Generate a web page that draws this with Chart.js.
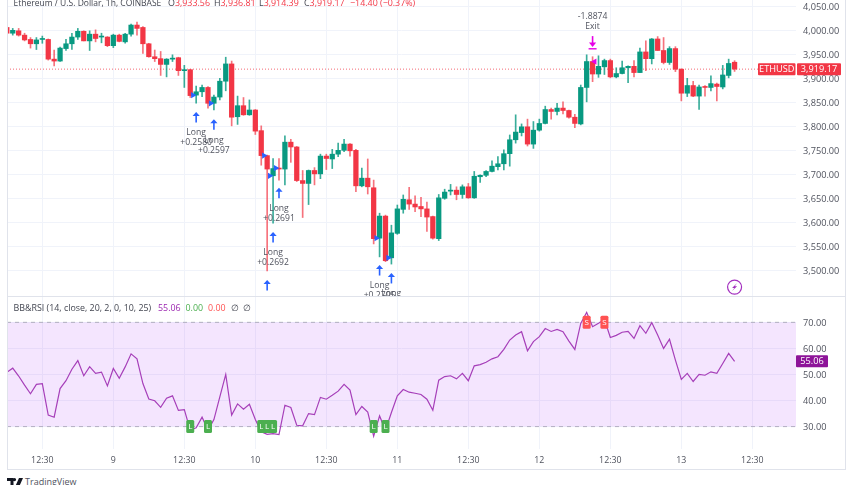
<!DOCTYPE html>
<html>
<head>
<meta charset="utf-8">
<title>ETHUSD</title>
<script src="https://cdn.jsdelivr.net/npm/chart.js@4"></script>
<style>
  html, body { margin: 0; padding: 0; background: #fff; overflow: hidden; }
  body { width: 852px; height: 485px; position: relative; font-family: "Open Sans", sans-serif; color: #434651; }
  canvas { position: absolute; left: 0; }
  #priceChart { top: 0; }
  #rsiChart { top: 296px; }
  .frame { position: absolute; background: #e0e3eb; }
  .legend { position: absolute; font-size: 8.9px; line-height: 14px; white-space: nowrap; }
  .legend span { position: absolute; top: 0; }
  .red { color: #f23645; }
  .green { color: #4caf50; }
  .pink { color: #ff5252; }
  .purple { color: #9c27b0; }
  #brand { position: absolute; left: 7px; top: 475px; height: 14px; }
  #brand svg { position: absolute; left: 0; top: 3px; }
  #brand span { position: absolute; left: 18px; top: 0; font-size: 9px; line-height: 14px; color: #50535e; }
</style>
</head>
<body>
<canvas id="priceChart" width="852" height="296"></canvas>
<canvas id="rsiChart" width="852" height="173"></canvas>

<div class="frame" style="left:7px;top:0;width:1px;height:470px"></div>
<div class="frame" style="left:845px;top:0;width:1px;height:470px"></div>
<div class="frame" style="left:7px;top:296px;width:839px;height:1px"></div>
<div class="frame" style="left:7px;top:469px;width:839px;height:1px"></div>

<div class="legend" style="left:0;top:-4px;width:852px">
  <span style="left:13.5px;font-size:8.5px">Ethereum / U.S. Dollar, 1h, COINBASE</span>
  <span style="left:168px">O<b class="red" style="font-weight:400">3,933.56</b></span>
  <span style="left:214px">H<b class="red" style="font-weight:400">3,936.81</b></span>
  <span style="left:259px">L<b class="red" style="font-weight:400">3,914.39</b></span>
  <span style="left:304px">C<b class="red" style="font-weight:400">3,919.17</b></span>
  <span class="red" style="left:350px">−14.40 (−0.37%)</span>
</div>
<div class="legend" style="left:0;top:301px;width:852px">
  <span style="left:13.5px">BB&amp;RSI (14, close, 20, 2, 0, 10, 25)</span>
  <span class="purple" style="left:158px">55.06</span>
  <span class="green" style="left:185.5px">0.00</span>
  <span class="pink" style="left:208px">0.00</span>
  <span style="left:231px">∅</span>
  <span style="left:243px">∅</span>
</div>
<div id="brand">
  <svg width="16" height="10" viewBox="0 0 16 10"><path d="M0 0h6.5v9H3.5V3H0z M7.5 0a1.6 1.6 0 1 1 0 3.2a1.6 1.6 0 1 1 0-3.2z M12 0h4l-4 9H8z" fill="#131722"/></svg>
  <span>TradingView</span>
</div>

<script>
// hourly candles
const opens = [4006,3994,3999,3990,3981,3972,3981,3981,3940,3936,3962,3972,3986,3998,3978,3992,3986,3986,3968,3990,3976,3992,4011,4006,3972,3945,3941,3929,3940,3943,3916,3918,3865,3872,3881,3848,3861,3894,3930,3820,3843,3824,3834,3791,3739,3697,3713,3711,3767,3757,3687,3681,3708,3701,3738,3732,3742,3750,3763,3750,3676,3692,3672,3567,3613,3526,3577,3627,3647,3638,3633,3628,3612,3566,3650,3665,3667,3658,3674,3651,3695,3698,3706,3716,3722,3743,3772,3787,3799,3763,3792,3806,3835,3831,3838,3833,3819,3805,3881,3935,3909,3924,3937,3903,3910,3922,3925,3912,3955,3941,3982,3958,3933,3962,3919,3869,3885,3863,3883,3881,3888,3882,3906,3933.56];
const highs = [4008,4004,4004,3994,3985,3985,3988,3982,3959,3965,3981,3994,4004,3999,3999,4001,3994,3987,3992,3992,3994,4013,4017,4008,3973,3959,3956,3941,3949,3944,3927,3919,3884,3886,3883,3865,3900,3944,3936,3863,3860,3855,3835,3801,3740,3733,3733,3780,3773,3758,3708,3709,3714,3742,3742,3752,3765,3773,3764,3752,3713,3732,3688,3619,3615,3594,3636,3657,3673,3655,3652,3642,3613,3658,3669,3679,3674,3678,3681,3706,3699,3708,3728,3737,3751,3782,3824,3805,3815,3810,3815,3842,3838,3848,3851,3834,3825,3886,3949,3945,3947,3940,3940,3922,3936,3926,3937,3963,3978,3983,3987,3985,3966,3966,3920,3900,3894,3886,3885,3905,3890,3927,3940,3936.81];
const lows = [3992,3990,3988,3978,3963,3960,3973,3938,3926,3935,3958,3960,3981,3978,3958,3976,3974,3966,3964,3976,3973,3988,3990,3952,3944,3935,3906,3903,3935,3906,3881,3860,3848,3862,3838,3834,3855,3874,3801,3804,3823,3823,3783,3719,3499,3598,3688,3678,3725,3685,3610,3637,3678,3691,3710,3712,3737,3747,3738,3664,3674,3659,3555,3528,3518,3513,3575,3619,3627,3622,3612,3581,3565,3562,3648,3657,3647,3650,3650,3650,3683,3695,3705,3709,3709,3717,3765,3780,3759,3754,3790,3805,3815,3824,3826,3817,3797,3803,3851,3893,3902,3908,3901,3901,3909,3891,3903,3912,3916,3930,3958,3930,3929,3914,3853,3862,3862,3835,3863,3874,3853,3878,3901,3914.39];
const closes = [3994,4000,3990,3980,3972,3980,3982,3940,3936,3963,3972,3986,3998,3978,3992,3983,3987,3968,3990,3977,3992,4011,4004,3972,3945,3941,3929,3940,3942,3916,3917,3864,3872,3881,3848,3861,3894,3930,3819,3843,3824,3834,3790,3739,3711,3712,3711,3767,3757,3687,3681,3708,3701,3738,3733,3742,3750,3763,3749,3676,3692,3674,3566,3613,3520,3578,3628,3648,3638,3632,3628,3611,3567,3651,3663,3667,3658,3674,3651,3696,3698,3706,3717,3722,3743,3772,3788,3799,3763,3792,3806,3835,3831,3838,3833,3819,3806,3881,3935,3909,3925,3937,3903,3910,3922,3925,3912,3955,3941,3982,3958,3933,3962,3919,3869,3885,3863,3882,3881,3889,3883,3907,3931,3919.17];
const rsiValues = [50.8,52.4,49.4,45.9,42.6,46.2,46.5,34.4,33.6,44.6,47.6,52,55.3,49.5,53,50.4,50.9,45.6,52.3,48.5,52.9,57.9,56,46.5,40.6,39.9,37.4,40.9,41.8,36.2,36.5,28.6,29.5,33.6,28.6,32.7,41.4,50,34.4,38.7,36.7,38.6,32.7,28,27,27.3,26.9,38.2,37.3,30.5,30.3,35,34.6,41.2,40.5,42,43.6,46.2,44,34.6,37.7,35.6,26.3,34.1,28.6,35.4,41.8,44.2,43.2,42.8,42.3,40.5,36.3,47.8,49.2,49.5,48.3,50.4,47.6,53.3,53.8,54.7,56,56.8,59.6,63.2,65.1,66.4,59.1,62.6,64.5,67.6,66.5,67.3,66.4,62.8,59.6,69.6,73.8,68.3,69.6,71.2,64.2,65,66.2,66.5,63.8,68.7,65.8,69.9,65.1,60,63.5,55.5,48.1,50.4,47.3,50,49.7,51,50.4,54.2,58.1,55.06];

const timeTickBars = [6,18,30,42,54,66,78,90,102,114,126];
const timeTickLabels = ["12:30","9","12:30","10","12:30","11","12:30","12","12:30","13","12:30"];
const priceTicks = [3500,3550,3600,3650,3700,3750,3800,3850,3900,3950,4000,4050];
const rsiTicks = [30,40,50,60,70];
const rsiBand = [70,30];

// strategy marks on the price pane
const longBars = [32,35,44,45,46,63,65];
const longArrowPrices = [3830,3815,3480,3580,3672,3511,3494.5];
const longProfits = ["+0.2580","+0.2597","","+0.2692","+0.2691","+0.2705",""];
const exitBar = 99;
const exitProfit = "-1.8874";
const exitArrowPrice = 3988;
const lastPrice = closes[closes.length - 1];
const lastRsi = rsiValues[rsiValues.length - 1];

// signal boxes on the RSI pane
const longSignalBars = [31,34,43,44,45,62,64];
const shortSignalBars = [98,101];

const UP = "#089981";
const DOWN = "#f23645";
const GRID = "#f0f3fa";
const FONT = '"Open Sans", sans-serif';
const TEXT = "#50535e";
const X_MIN = 0.03;
const X_MAX = 133.38;

const isUp = i => closes[i] >= opens[i];
const sharedX = {
    type: "linear",
    min: X_MIN,
    max: X_MAX,
    offset: false,
    border: { display: false },
    grid: { color: GRID, drawTicks: false, offset: false },
    afterBuildTicks: scale => {
        scale.ticks = timeTickBars.map(v => ({ value: v }));
    }
};
const rightAxisFit = scale => {
    scale.width = 56;
    scale.paddingTop = 0;
    scale.paddingBottom = 0;
};
const bottomAxisFit = height => scale => {
    scale.height = height;
    scale.paddingLeft = 0;
    scale.paddingRight = 0;
};

const tradeMarks = {
    id: "tradeMarks",
    afterDatasetsDraw(chart) {
        const { ctx, scales: { x, y } } = chart;
        ctx.save();
        ctx.textAlign = "center";
        ctx.textBaseline = "middle";
        ctx.font = `8.6px ${FONT}`;

        longBars.forEach((bar, i) => {
            const px = x.getPixelForValue(bar);
            const top = y.getPixelForValue(longArrowPrices[i]);
            ctx.strokeStyle = ctx.fillStyle = "#2962ff";
            ctx.lineWidth = 1.6;
            ctx.beginPath();
            ctx.moveTo(px, top + 3);
            ctx.lineTo(px, top + 10.5);
            ctx.stroke();
            ctx.beginPath();
            ctx.moveTo(px, top);
            ctx.lineTo(px + 3.6, top + 4);
            ctx.lineTo(px - 3.6, top + 4);
            ctx.fill();
            ctx.fillStyle = TEXT;
            ctx.fillText("Long", px, top + 21);
            if (longProfits[i]) ctx.fillText(longProfits[i], px, top + 31);
        });

        // exit marker
        const ex = x.getPixelForValue(exitBar);
        const ey = y.getPixelForValue(exitArrowPrice);
        ctx.strokeStyle = ctx.fillStyle = "#e600e6";
        ctx.lineWidth = 1.6;
        ctx.beginPath();
        ctx.moveTo(ex, ey);
        ctx.lineTo(ex, ey + 8);
        ctx.stroke();
        ctx.beginPath();
        ctx.moveTo(ex, ey + 11);
        ctx.lineTo(ex + 3.6, ey + 6.5);
        ctx.lineTo(ex - 3.6, ey + 6.5);
        ctx.fill();
        ctx.fillRect(ex - 4, ey + 12, 8, 1.4);
        ctx.fillStyle = TEXT;
        ctx.fillText("Exit", ex, ey - 9.5);
        ctx.fillText(exitProfit, ex, ey - 20);

        // last price tag
        const ty = y.getPixelForValue(lastPrice);
        ctx.fillStyle = DOWN;
        ctx.beginPath();
        ctx.roundRect(758, ty - 6, 37.5, 12, 1);
        ctx.roundRect(797, ty - 6, 44, 12, 1);
        ctx.fill();
        ctx.fillStyle = "#fff";
        ctx.font = `9.2px ${FONT}`;
        ctx.fillText("ETHUSD", 776.7, ty + 0.5);
        ctx.fillText(lastPrice.toLocaleString("en-US", { minimumFractionDigits: 2 }), 819, ty + 0.5);

        // lightning badge
        const bx = x.getPixelForValue(123), by = y.getPixelForValue(3465);
        ctx.strokeStyle = ctx.fillStyle = "#a32fbf";
        ctx.lineWidth = 1.2;
        ctx.beginPath();
        ctx.arc(bx, by, 7, 0, Math.PI * 2);
        ctx.stroke();
        ctx.beginPath();
        ctx.moveTo(bx + 2.5, by - 4);
        ctx.lineTo(bx - 2.5, by + 0.8);
        ctx.lineTo(bx - 0.2, by + 0.8);
        ctx.lineTo(bx - 2.5, by + 4);
        ctx.lineTo(bx + 2.5, by - 0.8);
        ctx.lineTo(bx + 0.2, by - 0.8);
        ctx.closePath();
        ctx.fill();
        ctx.restore();
    }
};

new Chart(document.getElementById("priceChart"), {
    type: "bar",
    data: {
        datasets: [
            {
                type: "line",
                data: [{ x: X_MIN, y: lastPrice }, { x: X_MAX, y: lastPrice }],
                borderColor: "rgba(242,54,69,0.75)",
                borderWidth: 1,
                borderDash: [1, 2],
                pointRadius: 0,
                order: 4
            },
            {
                data: opens.map((_, i) => ({ x: i, y: [lows[i], highs[i]] })),
                backgroundColor: opens.map((_, i) => isUp(i) ? "rgba(8,153,129,0.8)" : "rgba(242,54,69,0.7)"),
                barThickness: 1,
                grouped: false,
                order: 3
            },
            {
                data: opens.map((_, i) => ({ x: i, y: [opens[i], closes[i]] })),
                backgroundColor: opens.map((_, i) => isUp(i) ? UP : DOWN),
                barThickness: 4.6,
                minBarLength: 1,
                grouped: false,
                order: 2
            },
            {
                type: "scatter",
                data: longBars.map(bar => ({ x: bar - 0.55, y: opens[bar] })),
                pointStyle: "triangle",
                rotation: 90,
                pointRadius: 3.6,
                backgroundColor: "#2962ff",
                borderWidth: 0,
                order: 1
            },
            {
                type: "scatter",
                data: [{ x: exitBar + 0.35, y: opens[exitBar] }],
                pointStyle: "triangle",
                rotation: -90,
                pointRadius: 3.6,
                backgroundColor: "#e600e6",
                borderWidth: 0,
                order: 1
            }
        ]
    },
    options: {
        responsive: false,
        animation: false,
        layout: { autoPadding: false, padding: { left: 7, right: 0, top: 0, bottom: 0 } },
        plugins: { legend: { display: false }, tooltip: { enabled: false } },
        scales: {
            x: { ...sharedX, afterFit: bottomAxisFit(0), ticks: { display: false } },
            y: {
                position: "right",
                min: 3446.5,
                max: 4063.2,
                border: { display: false },
                grid: { color: GRID, drawTicks: false },
                afterBuildTicks: scale => {
                    scale.ticks = priceTicks.map(v => ({ value: v }));
                },
                afterFit: rightAxisFit,
                ticks: {
                    padding: 7,
                    labelOffset: 1.5,
                    color: TEXT,
                    font: { family: FONT, size: 9.2 },
                    callback: v => v.toLocaleString("en-US", { minimumFractionDigits: 2 })
                }
            }
        }
    },
    plugins: [tradeMarks]
});

const signalMarks = {
    id: "signalMarks",
    afterDatasetsDraw(chart) {
        const { ctx, scales: { x, y } } = chart;
        const box = (bar, level, color, letter) => {
            const px = x.getPixelForValue(bar);
            const py = y.getPixelForValue(level);
            ctx.fillStyle = color;
            ctx.beginPath();
            ctx.roundRect(px - 4, py - 6.5, 8, 13, 1.5);
            ctx.fill();
            ctx.fillStyle = "#fff";
            ctx.fillText(letter, px, py + 0.5);
        };
        ctx.save();
        ctx.textAlign = "center";
        ctx.textBaseline = "middle";
        ctx.font = `8px ${FONT}`;
        longSignalBars.forEach(bar => box(bar, rsiBand[1], "#4caf50", "L"));
        shortSignalBars.forEach(bar => box(bar, rsiBand[0], "#ff5252", "S"));

        // last value tag
        const ty = y.getPixelForValue(lastRsi);
        ctx.fillStyle = "#8e1599";
        ctx.beginPath();
        ctx.roundRect(796, ty - 6, 32, 12, 1);
        ctx.fill();
        ctx.fillStyle = "#fff";
        ctx.font = `9.2px ${FONT}`;
        ctx.fillText(lastRsi.toFixed(2), 812, ty + 0.5);
        ctx.restore();
    }
};

const bandLine = level => [{ x: X_MIN, y: level }, { x: X_MAX, y: level }];

new Chart(document.getElementById("rsiChart"), {
    type: "line",
    data: {
        datasets: [
            {
                data: bandLine(rsiBand[0]),
                borderColor: "rgba(120,123,134,0.5)",
                borderWidth: 1,
                borderDash: [4, 4],
                pointRadius: 0,
                fill: "+1",
                backgroundColor: "rgba(180,80,250,0.15)",
                order: 3
            },
            {
                data: bandLine(rsiBand[1]),
                borderColor: "rgba(120,123,134,0.5)",
                borderWidth: 1,
                borderDash: [4, 4],
                pointRadius: 0,
                order: 3
            },
            {
                data: rsiValues.map((v, i) => ({ x: i, y: v })),
                borderColor: "#a63fb9",
                borderWidth: 1.2,
                pointRadius: 0,
                order: 1
            }
        ]
    },
    options: {
        responsive: false,
        animation: false,
        layout: { autoPadding: false, padding: { left: 7, right: 0, top: 0, bottom: 0 } },
        plugins: { legend: { display: false }, tooltip: { enabled: false } },
        scales: {
            x: {
                ...sharedX,
                afterFit: bottomAxisFit(20),
                ticks: {
                    padding: 6,
                    maxRotation: 0,
                    autoSkip: false,
                    color: TEXT,
                    font: { family: FONT, size: 8.8 },
                    callback: v => timeTickLabels[timeTickBars.indexOf(v)]
                }
            },
            y: {
                position: "right",
                min: 21.4,
                max: 80.1,
                border: { display: false },
                grid: { color: GRID, drawTicks: false },
                afterBuildTicks: scale => {
                    scale.ticks = rsiTicks.map(v => ({ value: v }));
                },
                afterFit: rightAxisFit,
                ticks: {
                    padding: 7,
                    labelOffset: 1,
                    color: TEXT,
                    font: { family: FONT, size: 9.2 },
                    callback: v => v.toFixed(2)
                }
            }
        }
    },
    plugins: [signalMarks]
});
</script>
</body>
</html>
